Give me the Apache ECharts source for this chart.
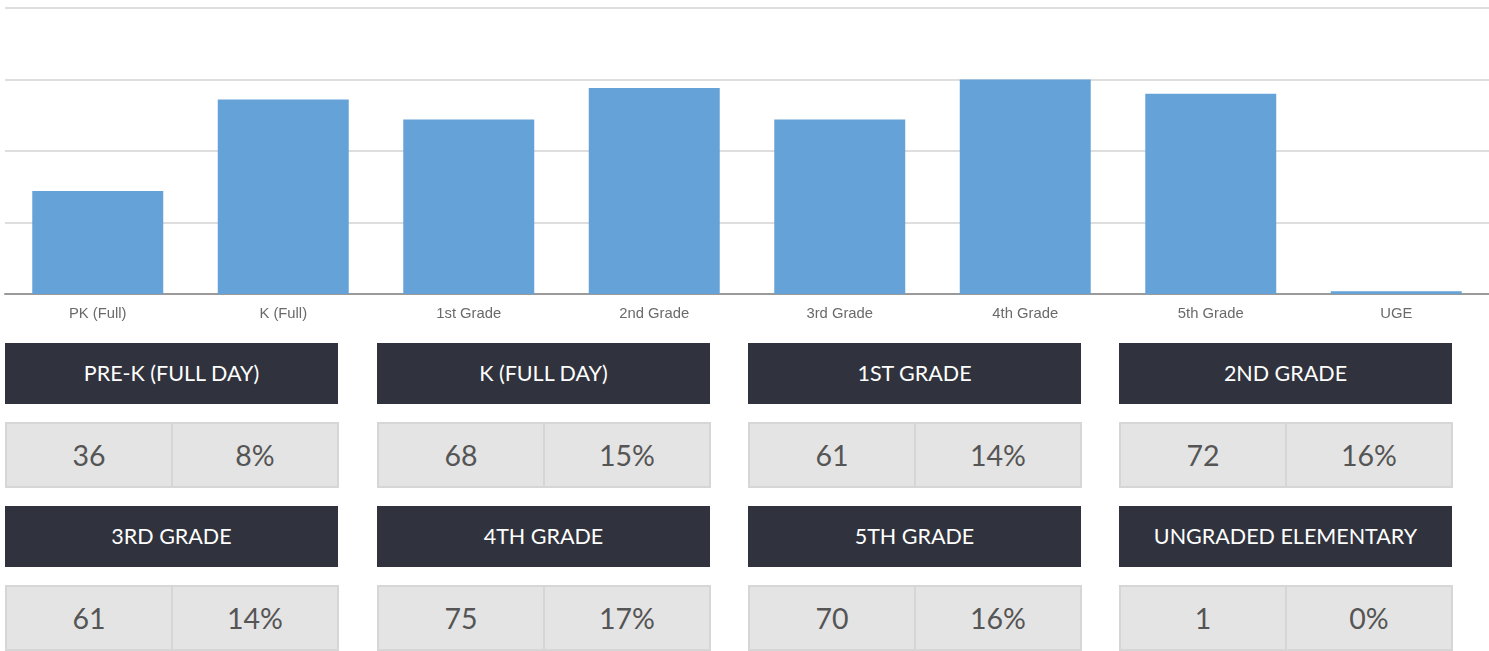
<!DOCTYPE html>
<html>
<head>
<meta charset="utf-8">
<script src="https://cdn.jsdelivr.net/npm/echarts@6/dist/echarts.min.js"></script>
<style>
  html, body { margin: 0; padding: 0; background: #fff; width: 1489px; height: 651px; overflow: hidden; }
  #chart { position: absolute; left: 0; top: 0; width: 1489px; height: 330px; }
  .card { position: absolute; width: 333px; font-family: Lato, "Open Sans", sans-serif; }
  .hdr { height: 61px; background: #30333e; color: #fff; font-size: 21.5px; font-weight: 400; line-height: 61px; text-align: center; }
  .vals { position: absolute; left: 0; width: 334px; height: 66px; display: flex; }
  .cell { box-sizing: border-box; height: 66px; width: 50%; background: #e4e4e4; border: 2px solid #d6d6d6; color: #555; font-size: 28.5px; line-height: 62px; text-align: center; }
  .cell + .cell { border-left: 1px solid #d6d6d6; }
  .cell:first-child { border-right: 1px solid #d6d6d6; }
</style>
</head>
<body>
<div id="chart"></div>
<div id="cards"></div>
<script>
const categories = ['PK (Full)', 'K (Full)', '1st Grade', '2nd Grade', '3rd Grade', '4th Grade', '5th Grade', 'UGE'];
const counts = [36, 68, 61, 72, 61, 75, 70, 1];
const cardTitles = ['PRE-K (FULL DAY)', 'K (FULL DAY)', '1ST GRADE', '2ND GRADE', '3RD GRADE', '4TH GRADE', '5TH GRADE', 'UNGRADED ELEMENTARY'];
const percents = ['8%', '15%', '14%', '16%', '14%', '17%', '16%', '0%'];

const chart = echarts.init(document.getElementById('chart'));
chart.setOption({
  animation: false,
  grid: { left: 5, right: 0, top: 8, bottom: 36, containLabel: false },
  xAxis: {
    type: 'category',
    data: categories,
    axisLine: { lineStyle: { color: '#9a9a9a', width: 2 } },
    axisTick: { show: false },
    axisLabel: { color: '#6a6a6a', fontSize: 14.8, fontFamily: 'Liberation Sans, Arial, sans-serif', margin: 12 }
  },
  yAxis: {
    type: 'value',
    min: 0, max: 100, interval: 25,
    axisLabel: { show: false },
    axisLine: { show: false },
    axisTick: { show: false },
    splitLine: { lineStyle: { color: '#dedede', width: 2 } }
  },
  series: [{
    type: 'bar',
    data: counts,
    barWidth: '70.6%',
    itemStyle: { color: '#65a2d7' }
  }]
});

const cardsEl = document.getElementById('cards');
const colX = [5, 377, 748, 1119];
const rowY = [343, 506];
cardTitles.forEach((t, i) => {
  const c = document.createElement('div');
  c.className = 'card';
  c.style.left = colX[i % 4] + 'px';
  c.style.top = rowY[Math.floor(i / 4)] + 'px';
  c.innerHTML = '<div class="hdr">' + t + '</div>' +
    '<div class="vals" style="top:79px"><div class="cell">' + counts[i] + '</div><div class="cell">' + percents[i] + '</div></div>';
  cardsEl.appendChild(c);
});
</script>
</body>
</html>
